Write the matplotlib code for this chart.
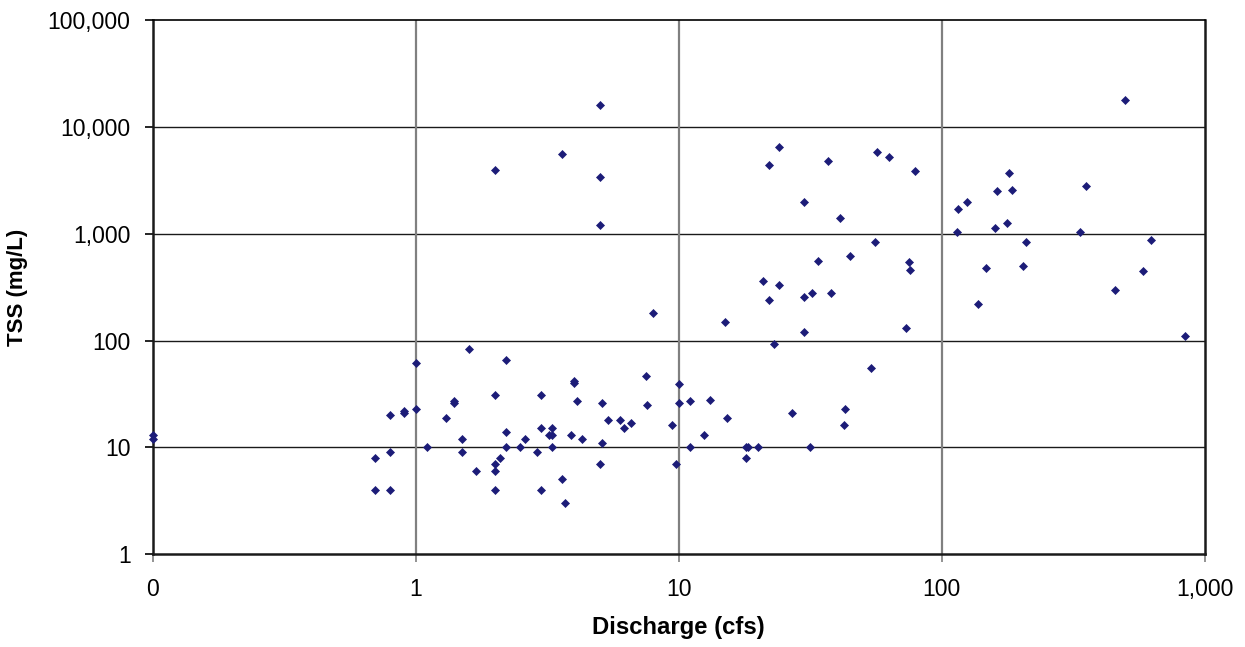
import matplotlib
matplotlib.use("Agg")
import matplotlib.pyplot as plt
from matplotlib.ticker import FixedLocator, FuncFormatter, NullLocator

# Discharge (cfs) and total suspended solids (mg/L) samples
discharge = [
    0.1, 0.1,
    0.7, 0.7, 0.8, 0.8, 0.8, 0.9, 0.9,
    1.0, 1.0, 1.1, 1.3, 1.4, 1.4, 1.6, 1.5, 1.5, 1.7,
    2.0, 2.0, 2.0, 2.0, 2.0, 2.1, 2.2, 2.2, 2.2, 2.5, 2.6, 2.9,
    3.0, 3.0, 3.0, 3.2, 3.3, 3.3, 3.3, 3.6, 3.7, 3.6, 3.9,
    4.0, 4.0, 4.1, 4.3,
    5.0, 5.0, 5.0, 5.0, 5.1, 5.1, 5.4, 6.0, 6.2, 6.6,
    7.5, 7.6, 8.0, 9.4, 9.8, 10.0, 10.0,
    11.0, 11.0, 12.5, 13.2, 15.0, 15.3, 18.0, 18.0, 18.4, 20.0,
    21, 22, 22, 23, 24, 24, 27, 30, 30, 30, 31.6, 32, 34, 37, 38, 41,
    42.5, 43, 45, 54, 56, 57, 63, 73, 75, 76, 79,
    114, 115, 125, 138, 148, 160, 163, 177, 180, 185, 204, 210, 335,
    355, 455, 500, 585, 625, 840,
]
tss = [
    13, 12,
    8, 4, 4, 9, 20, 22, 21,
    61, 23, 10, 19, 27, 26, 84, 12, 9, 6,
    31, 7, 6, 4, 4000, 8, 66, 14, 10, 10, 12, 9,
    31, 15, 4, 13, 13, 15, 10, 5, 3, 5600, 13,
    42, 40, 27, 12,
    16000, 3400, 1200, 7, 26, 11, 18, 18, 15, 17,
    47, 25, 180, 16, 7, 39, 26,
    27, 10, 13, 28, 150, 19, 8, 10, 10, 10,
    360, 240, 4400, 93, 330, 6500, 21, 255, 120, 2000, 10, 280, 560, 4800, 280, 1400,
    16, 23, 620, 55, 830, 5900, 5200, 130, 550, 460, 3900,
    1050, 1700, 2000, 220, 480, 1130, 2500, 1270, 3700, 2600, 500, 840, 1050,
    2800, 300, 17800, 450, 880, 110,
]

x_ticks = [0.1, 1, 10, 100, 1000]
y_ticks = [1, 10, 100, 1000, 10000, 100000]

plt.rcParams["font.family"] = ["Liberation Sans", "DejaVu Sans"]

fig = plt.figure(figsize=(12.45, 6.47), dpi=100)
ax = fig.add_axes([0.1227, 0.1437, 0.8449, 0.8249])

ax.set_xscale("log")
ax.set_yscale("log")
ax.set_xlim(x_ticks[0], x_ticks[-1])
ax.set_ylim(y_ticks[0], y_ticks[-1])

# Grid: dark horizontal lines, grey vertical lines
for yv in y_ticks[1:-1]:
    ax.axhline(yv, color="#1a1a1a", lw=1.0, zorder=1)
for xv in x_ticks[1:-1]:
    ax.axvline(xv, color="#808080", lw=1.6, zorder=1)

ax.plot(discharge, tss, linestyle="none", marker="D", markersize=4.0,
        markerfacecolor="#1c1c78", markeredgecolor="#1c1c78",
        markeredgewidth=0.5, zorder=3, clip_on=False)

fmt = FuncFormatter(lambda v, pos: f"{v:,.0f}")
ax.xaxis.set_major_locator(FixedLocator(x_ticks))
ax.yaxis.set_major_locator(FixedLocator(y_ticks))
ax.xaxis.set_minor_locator(NullLocator())
ax.yaxis.set_minor_locator(NullLocator())
ax.xaxis.set_major_formatter(fmt)
ax.yaxis.set_major_formatter(fmt)

ax.tick_params(axis="x", direction="out", length=6, width=1.2,
               color="#808080", labelsize=16.6, pad=11, labelcolor="black")
ax.tick_params(axis="y", direction="out", length=6, width=1.2,
               color="black", labelsize=16.6, pad=10)

for side in ["left", "bottom", "right"]:
    ax.spines[side].set_linewidth(1.8)
    ax.spines[side].set_color("#1a1a1a")
ax.spines["top"].set_linewidth(1.2)
ax.spines["top"].set_color("black")

ax.set_xlabel("Discharge (cfs)", fontsize=17.2, fontweight="bold", labelpad=11)
ax.set_ylabel("TSS (mg/L)", fontsize=16.0, fontweight="bold", labelpad=14)

fig.savefig("out.png", dpi=100, facecolor="white")
